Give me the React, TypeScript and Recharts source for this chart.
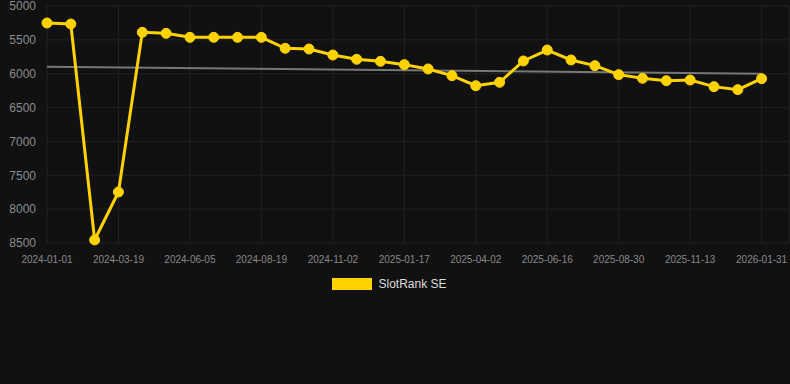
import React from "react";
import { LineChart, Line, XAxis, YAxis, CartesianGrid, Legend } from "recharts";

const tickLabels = [
  "2024-01-01", "2024-03-19", "2024-06-05", "2024-08-19", "2024-11-02", "2025-01-17",
  "2025-04-02", "2025-06-16", "2025-08-30", "2025-11-13", "2026-01-31",
];
const tickPositions = [0, 3, 6, 9, 12, 15, 18, 21, 24, 27, 30];

const rankValues = [
  5251, 5266, 8455, 7747, 5389, 5404, 5463, 5463, 5463, 5463,
  5625, 5635, 5724, 5787, 5817, 5866, 5930, 6029, 6177, 6127,
  5812, 5650, 5797, 5881, 6014, 6068, 6103, 6093, 6191, 6235, 6073,
];
const trendStart = 5896;
const trendEnd = 6000;
const yTicks = [5000, 5500, 6000, 6500, 7000, 7500, 8000, 8500];

const data = rankValues.map((v, i) => ({ idx: i, rank: v }));
const trendData = [
  { idx: 0, trend: trendStart },
  { idx: rankValues.length - 1, trend: trendEnd },
];

const FONT = "'Liberation Sans', Arial, sans-serif";
const GOLD = "#FFD200";

const renderLegend = () => (
  <div
    style={{
      height: 16,
      display: "flex",
      justifyContent: "center",
      alignItems: "center",
      fontFamily: FONT,
      fontSize: 12,
      color: "#dddddd",
      paddingRight: 10,
    }}
  >
    <span style={{ width: 40, height: 12, background: GOLD, display: "inline-block", marginRight: 6 }} />
    <span style={{ lineHeight: "16px" }}>SlotRank SE</span>
  </div>
);

export default function App() {
  return (
    <div style={{ position: "absolute", left: 0, top: 0, width: 790, height: 384, background: "#111111" }}>
      <LineChart
        width={790}
        height={384}
        data={data}
        margin={{ top: 6, right: 1, left: 0, bottom: 92 }}
      >
        <CartesianGrid stroke="#222222" strokeWidth={1} />
        <XAxis
          dataKey="idx"
          type="number"
          domain={[0, 31.15]}
          ticks={tickPositions}
          tickFormatter={(v: number) => tickLabels[tickPositions.indexOf(v)] ?? ""}
          axisLine={false}
          tickLine={false}
          tickMargin={7}
          height={33}
          interval={0}
          tick={{ fill: "#888888", fontSize: 10, fontFamily: FONT }}
        />
        <YAxis
          reversed
          domain={[5000, 8500]}
          ticks={yTicks}
          width={47}
          axisLine={false}
          tickLine={false}
          tickMargin={5}
          interval={0}
          tick={{ fill: "#8c8c8c", fontSize: 12, fontFamily: FONT }}
        />
        <Legend verticalAlign="bottom" content={renderLegend} />
        <Line
          data={trendData}
          dataKey="trend"
          stroke="#777777"
          strokeWidth={2}
          dot={false}
          activeDot={false}
          legendType="none"
          isAnimationActive={false}
        />
        <Line
          dataKey="rank"
          name="SlotRank SE"
          stroke={GOLD}
          strokeWidth={3}
          dot={{ r: 5, fill: GOLD, stroke: GOLD, strokeWidth: 1, clipDot: false }}
          activeDot={false}
          isAnimationActive={false}
        />
      </LineChart>
    </div>
  );
}
